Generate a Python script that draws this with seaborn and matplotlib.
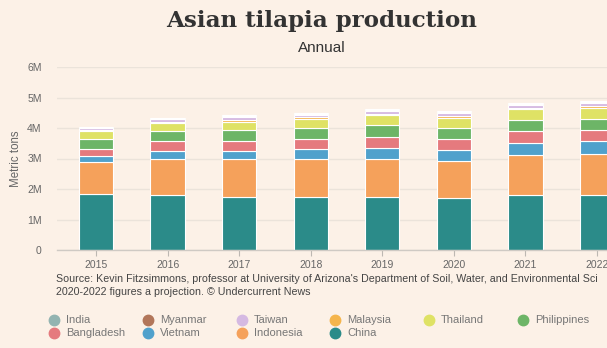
import matplotlib
matplotlib.use("Agg")
import matplotlib.pyplot as plt
import matplotlib.lines as mlines
import numpy as np
import pandas as pd
import seaborn as sns

years = ["2015", "2016", "2017", "2018", "2019", "2020", "2021", "2022"]
# stacking order bottom -> top (values in million metric tons)
countries = ["China", "Indonesia", "Vietnam", "Bangladesh", "Philippines",
             "Thailand", "Malaysia", "Taiwan", "Myanmar", "India"]
china       = [1.82, 1.80, 1.75, 1.74, 1.75, 1.72, 1.81, 1.81]
indonesia   = [1.08, 1.18, 1.22, 1.23, 1.25, 1.19, 1.31, 1.34]
vietnam     = [0.17, 0.28, 0.29, 0.33, 0.35, 0.38, 0.40, 0.42]
bangladesh  = [0.23, 0.31, 0.31, 0.35, 0.37, 0.36, 0.38, 0.38]
philippines = [0.33, 0.33, 0.36, 0.36, 0.38, 0.36, 0.37, 0.35]
thailand    = [0.28, 0.26, 0.27, 0.30, 0.31, 0.33, 0.34, 0.36]
malaysia    = [0.02, 0.04, 0.06, 0.05, 0.06, 0.05, 0.05, 0.06]
taiwan      = [0.06, 0.08, 0.09, 0.08, 0.08, 0.10, 0.10, 0.10]
myanmar     = [0.02, 0.03, 0.03, 0.03, 0.03, 0.04, 0.04, 0.04]
india       = [0.02, 0.02, 0.03, 0.03, 0.03, 0.03, 0.03, 0.03]
series = [china, indonesia, vietnam, bangladesh, philippines,
          thailand, malaysia, taiwan, myanmar, india]

colors = {
    "India": "#93b4b1", "Myanmar": "#b2765a", "Taiwan": "#d5b9e2",
    "Malaysia": "#f5b54c", "Thailand": "#dfe265", "Philippines": "#6db567",
    "Bangladesh": "#e57a7e", "Vietnam": "#50a1cc", "Indonesia": "#f5a15b",
    "China": "#2b8b89",
}
legend_order = ["India", "Myanmar", "Taiwan", "Malaysia", "Thailand", "Philippines",
                "Bangladesh", "Vietnam", "Indonesia", "China"]

bg = "#fcf1e7"
W, H = 607, 348
fig = plt.figure(figsize=(W / 100, H / 100), dpi=100, facecolor=bg)
ax = fig.add_axes([57 / W, (H - 250) / H, (636 - 57) / W, (250 - 67) / H])
ax.set_facecolor(bg)

bottom = np.zeros(len(years))
for name, vals in zip(countries, series):
    v = np.array(vals) * 1e6
    df = pd.DataFrame({"year": years, "value": v})
    sns.barplot(data=df, x="year", y="value", order=years, color=colors[name],
                saturation=1, width=0.48, bottom=bottom, edgecolor="white",
                linewidth=0.8, errorbar=None, ax=ax)
    bottom = bottom + v

ax.set_xlim(-0.545, 7.545)
ax.set_ylim(0, 6e6)
ax.set_yticks([0, 1e6, 2e6, 3e6, 4e6, 5e6, 6e6])
ax.set_yticklabels(["0", "1M", "2M", "3M", "4M", "5M", "6M"])
ax.grid(axis="y", color="#ebe3da", linewidth=1)
ax.set_axisbelow(True)
for s in ["top", "right", "left"]:
    ax.spines[s].set_visible(False)
ax.spines["bottom"].set_color("#cfcac4")
ax.spines["bottom"].set_linewidth(1)
ax.tick_params(axis="y", length=0, pad=11, labelsize=7.5, labelcolor="#666666")
ax.tick_params(axis="x", length=4, width=0.8, color="#bdb8b2", pad=3,
               labelsize=7.5, labelcolor="#666666")
ax.set_xlabel("")
ax.set_ylabel("Metric tons", fontsize=8.3, color="#666666")
ax.yaxis.set_label_coords(-35 / (636 - 57), 0.5)

fig.text(322 / W, 1 - 27 / H, "Asian tilapia production", ha="center", va="baseline",
         fontsize=16.6, fontweight="bold", family="DejaVu Serif", color="#333333")
fig.text(322 / W, 1 - 52 / H, "Annual", ha="center", va="baseline",
         fontsize=11, family="Liberation Sans", color="#333333")

fig.text(56 / W, 1 - 279 / H,
         "Source: Kevin Fitzsimmons, professor at University of Arizona's Department of Soil, Water, and Environmental Sci",
         ha="left", va="center", fontsize=7.65, family="Liberation Sans", color="#444444")
fig.text(56 / W, 1 - 292 / H, "2020-2022 figures a projection. \u00a9 Undercurrent News",
         ha="left", va="center", fontsize=7.65, family="Liberation Sans", color="#444444")

for i, name in enumerate(legend_order):
    row, col = divmod(i, 6)
    cx = 54 + 93.8 * col
    cy = 320 + 12.8 * row
    fig.add_artist(mlines.Line2D([cx / W], [1 - cy / H], marker="o", markersize=7.5,
                                 color=colors[name], linestyle="none",
                                 transform=fig.transFigure))
    fig.text((cx + 12) / W, 1 - cy / H, name, ha="left", va="center", fontsize=8,
             family="Liberation Sans", color="#777777")

for lbl in ax.get_xticklabels() + ax.get_yticklabels():
    lbl.set_family("Liberation Sans")
ax.yaxis.label.set_family("Liberation Sans")

fig.savefig("out.png", dpi=100, facecolor=bg)
